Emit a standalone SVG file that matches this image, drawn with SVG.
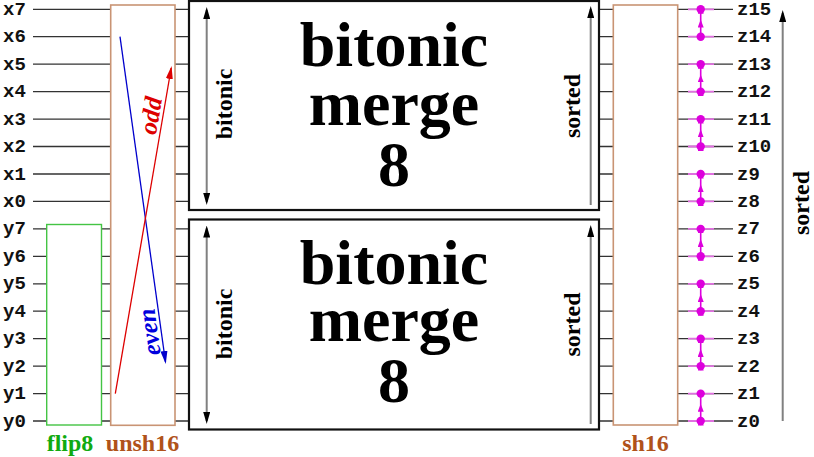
<svg xmlns="http://www.w3.org/2000/svg" width="814" height="457" viewBox="0 0 814 457">
<style>
.wire{stroke:#333;stroke-width:1.3;fill:none}
.lbl{font-family:"Liberation Mono","DejaVu Sans Mono",monospace;font-weight:bold;font-size:19px;fill:#111}
.ser{font-family:"Liberation Serif","Times New Roman",serif;font-weight:bold}
.big{font-size:64px;fill:#000;text-anchor:middle}
.side{font-size:24px;fill:#000;text-anchor:middle}
.bm{fill:#fff;stroke:#111;stroke-width:2.2}
.tan{fill:#fff;stroke:#c99474;stroke-width:1.6}
.grn{fill:#fff;stroke:#44c444;stroke-width:1.4}
.garrow{stroke:#808080;stroke-width:2;fill:none}
.mag{fill:#dd00dd}
.mseg{stroke:#e070e0;stroke-width:1.8}
.mline{stroke:#dd00dd;stroke-width:1.6;fill:none}
</style>
<defs>
<marker id="ah" viewBox="0 0 12 7" refX="9" refY="3.5" markerWidth="12" markerHeight="7" markerUnits="userSpaceOnUse" orient="auto-start-reverse"><path d="M0,0 L12,3.5 L0,7 z" fill="#000"/></marker>
<marker id="ahb" viewBox="0 0 13 7" refX="11" refY="3.5" markerWidth="13" markerHeight="7" markerUnits="userSpaceOnUse" orient="auto"><path d="M0,0 L13,3.5 L0,7 z" fill="#0000cc"/></marker>
<marker id="ahr" viewBox="0 0 13 7" refX="11" refY="3.5" markerWidth="13" markerHeight="7" markerUnits="userSpaceOnUse" orient="auto"><path d="M0,0 L13,3.5 L0,7 z" fill="#dd0000"/></marker>
<marker id="ahm" viewBox="0 0 8 6" refX="4.5" refY="3" markerWidth="8" markerHeight="6" markerUnits="userSpaceOnUse" orient="auto"><path d="M0,0 L8,3 L0,6 z" fill="#dd00dd"/></marker>
</defs>

<g id="wires">
<path class="wire" d="M33 9.3H189M33 36.7H189M33 64.2H189M33 91.6H189M33 119.1H189M33 146.5H189M33 174H189M33 201.4H189M33 228.9H189M33 256.3H189M33 283.8H189M33 311.2H189M33 338.7H189M33 366.1H189M33 393.6H189M33 421H189"/>
<path class="wire" d="M599 9.3H733M599 36.7H733M599 64.2H733M599 91.6H733M599 119.1H733M599 146.5H733M599 174H733M599 201.4H733M599 228.9H733M599 256.3H733M599 283.8H733M599 311.2H733M599 338.7H733M599 366.1H733M599 393.6H733M599 421H733"/>
</g>

<g id="input-labels" class="lbl">
<text x="3" y="14.8">x7</text>
<text x="3" y="42.2">x6</text>
<text x="3" y="69.7">x5</text>
<text x="3" y="97.1">x4</text>
<text x="3" y="124.6">x3</text>
<text x="3" y="152">x2</text>
<text x="3" y="179.5">x1</text>
<text x="3" y="206.9">x0</text>
<text x="3" y="234.4">y7</text>
<text x="3" y="261.8">y6</text>
<text x="3" y="289.3">y5</text>
<text x="3" y="316.7">y4</text>
<text x="3" y="344.2">y3</text>
<text x="3" y="371.6">y2</text>
<text x="3" y="399.1">y1</text>
<text x="3" y="426.5">y0</text>
</g>

<g id="flip8">
<rect class="grn" x="46.7" y="224.5" width="54.8" height="200.5"/>
<text class="ser" x="70" y="451" font-size="24" fill="#11aa11" text-anchor="middle">flip8</text>
</g>

<g id="unsh16">
<rect class="tan" x="110.7" y="5" width="64.3" height="420.3"/>
<text class="ser" x="142.5" y="451" font-size="24" fill="#b0521a" text-anchor="middle">unsh16</text>
</g>

<g id="merge-top">
<rect class="bm" x="189" y="1" width="410" height="209"/>
<text class="ser big"><tspan x="394" y="66">bitonic</tspan><tspan x="394" y="125">merge</tspan><tspan x="394" y="186">8</tspan></text>
<text class="ser side" transform="translate(231.5,104) rotate(-90)">bitonic</text>
<text class="ser side" transform="translate(580,106) rotate(-90)">sorted</text>
</g>

<g id="merge-bottom">
<rect class="bm" x="189" y="219.5" width="410" height="210"/>
<text class="ser big"><tspan x="394" y="284">bitonic</tspan><tspan x="394" y="341">merge</tspan><tspan x="394" y="402">8</tspan></text>
<text class="ser side" transform="translate(231.5,324) rotate(-90)">bitonic</text>
<text class="ser side" transform="translate(580,324.5) rotate(-90)">sorted</text>
</g>

<g id="sh16">
<rect class="tan" x="613.3" y="5" width="64.4" height="420"/>
<text class="ser" x="645.5" y="451" font-size="24" fill="#b0521a" text-anchor="middle">sh16</text>
</g>

<g id="output-labels" class="lbl">
<text x="737" y="14.8">z15</text>
<text x="737" y="42.2">z14</text>
<text x="737" y="69.7">z13</text>
<text x="737" y="97.1">z12</text>
<text x="737" y="124.6">z11</text>
<text x="737" y="152">z10</text>
<text x="737" y="179.5">z9</text>
<text x="737" y="206.9">z8</text>
<text x="737" y="234.4">z7</text>
<text x="737" y="261.8">z6</text>
<text x="737" y="289.3">z5</text>
<text x="737" y="316.7">z4</text>
<text x="737" y="344.2">z3</text>
<text x="737" y="371.6">z2</text>
<text x="737" y="399.1">z1</text>
<text x="737" y="426.5">z0</text>
</g>

<g id="connectors">
<path class="garrow" d="M206.7 10V202" marker-start="url(#ah)" marker-end="url(#ah)"/>
<path class="garrow" d="M590.7 205V9" marker-end="url(#ah)"/>
<path class="garrow" d="M206.7 228.5V421" marker-start="url(#ah)" marker-end="url(#ah)"/>
<path class="garrow" d="M590.7 424V228" marker-end="url(#ah)"/>
<path class="garrow" d="M782.7 421V13" marker-end="url(#ah)"/>
<line x1="120" y1="36.7" x2="165.5" y2="362" stroke="#0000cc" stroke-width="1.3" marker-end="url(#ahb)"/>
<line x1="115.3" y1="393.6" x2="171.2" y2="68" stroke="#dd0000" stroke-width="1.3" marker-end="url(#ahr)"/>
<text class="ser" font-style="italic" font-size="25" fill="#dd0000" text-anchor="middle" transform="translate(159,117) rotate(-80)">odd</text>
<text class="ser" font-style="italic" font-size="25" fill="#0000dd" text-anchor="middle" transform="translate(157.5,331) rotate(-98)">even</text>
<g id="comparators">
<path class="mseg" d="M688 9.3H714M688 36.7H714M688 64.2H714M688 91.6H714M688 119.1H714M688 146.5H714M688 174H714M688 201.4H714M688 228.9H714M688 256.3H714M688 283.8H714M688 311.2H714M688 338.7H714M688 366.1H714M688 393.6H714M688 421H714"/>
<path class="mline" marker-mid="url(#ahm)" d="M700.7 36.7V23V9.3M700.7 91.6V77.9V64.2M700.7 146.5V132.8V119.1M700.7 201.4V187.7V174M700.7 256.3V242.6V228.9M700.7 311.2V297.5V283.8M700.7 366.1V352.4V338.7M700.7 421V407.3V393.6"/>
<g class="mag">
<circle cx="700.7" cy="9.3" r="4.2"/><circle cx="700.7" cy="36.7" r="4.2"/>
<circle cx="700.7" cy="64.2" r="4.2"/><circle cx="700.7" cy="91.6" r="4.2"/>
<circle cx="700.7" cy="119.1" r="4.2"/><circle cx="700.7" cy="146.5" r="4.2"/>
<circle cx="700.7" cy="174" r="4.2"/><circle cx="700.7" cy="201.4" r="4.2"/>
<circle cx="700.7" cy="228.9" r="4.2"/><circle cx="700.7" cy="256.3" r="4.2"/>
<circle cx="700.7" cy="283.8" r="4.2"/><circle cx="700.7" cy="311.2" r="4.2"/>
<circle cx="700.7" cy="338.7" r="4.2"/><circle cx="700.7" cy="366.1" r="4.2"/>
<circle cx="700.7" cy="393.6" r="4.2"/><circle cx="700.7" cy="421" r="4.2"/>
</g>
</g>
<text class="ser side" transform="translate(809,203) rotate(-90)">sorted</text>
</g>
</svg>
